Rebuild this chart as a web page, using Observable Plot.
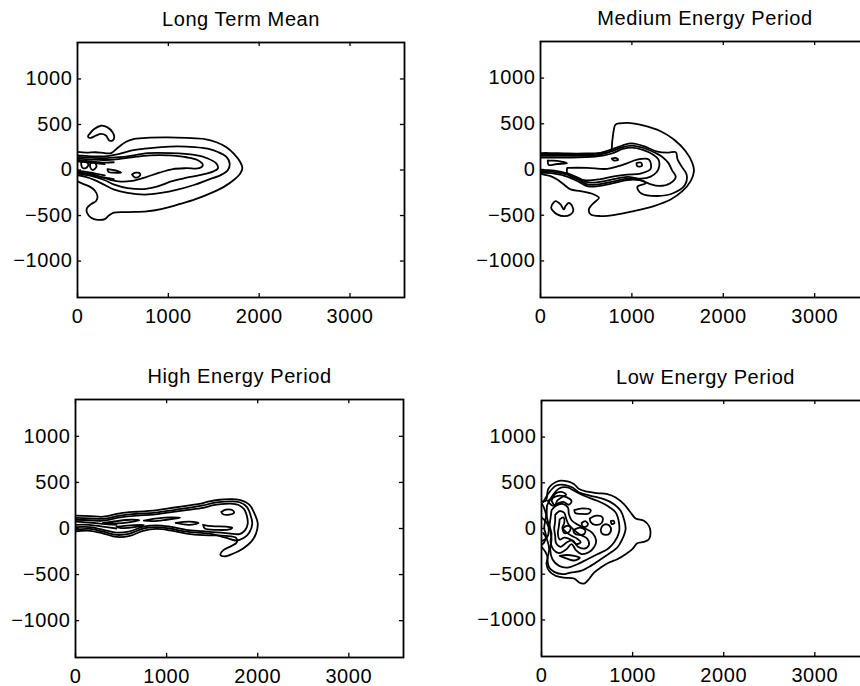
<!DOCTYPE html>
<html><head><meta charset="utf-8">
<script src="https://cdn.jsdelivr.net/npm/d3@7"></script>
<script src="https://cdn.jsdelivr.net/npm/@observablehq/plot@0.6"></script>
<style>
body{margin:0;background:#fff;}
#wrap{position:relative;width:860px;height:686px;overflow:hidden;background:#fff;}
#wrap svg{position:absolute;}
</style></head><body><div id="wrap"></div>
<script>
const xTicks = [0, 1000, 2000, 3000];
const yTicks = [-1000, -500, 0, 500, 1000];
const xDomain = [0, 3600];
const yDomain = [-1400, 1400];
const titles = ["Long Term Mean", "Medium Energy Period", "High Energy Period", "Low Energy Period"];

// Contour polylines [x, y] (data units)
const longTermMean = [
  [[0,198],[100,190],[200,195],[300,185],[370,185],[450,250],[535,310],[626,342],[800,355],[1000,358],[1200,352],[1400,340],[1530,305],[1640,250],[1720,180],[1790,90],[1815,20],[1790,-40],[1720,-110],[1620,-180],[1500,-240],[1300,-320],[1140,-370],[920,-430],[760,-455],[560,-462],[400,-468],[345,-500],[300,-540],[220,-547],[150,-525],[105,-470],[105,-415],[150,-375],[205,-340],[220,-290],[190,-225],[130,-180],[55,-150],[0,-125]],
  [[118,378],[184,450],[258,486],[331,468],[386,414],[405,360],[386,324],[350,324],[313,378],[258,396],[202,378],[147,353],[118,360],[118,378]],
  [[0,160],[150,150],[300,150],[450,175],[600,215],[740,235],[920,252],[1100,259],[1290,252],[1435,234],[1546,198],[1640,144],[1675,72],[1656,0],[1582,-54],[1435,-108],[1290,-162],[1100,-216],[920,-252],[740,-270],[550,-252],[405,-216],[295,-162],[184,-108],[90,-75],[0,-55]],
  [[0,145],[150,135],[300,130],[450,140],[552,150],[773,185],[1030,185],[1288,165],[1435,126],[1527,72],[1546,18],[1490,-18],[1362,-54],[1178,-90],[1030,-126],[883,-180],[736,-209],[552,-198],[405,-160],[295,-110],[150,-65],[0,-40]],
  [[0,125],[150,115],[300,110],[450,120],[600,140],[800,160],[1000,160],[1200,140],[1320,110],[1380,55],[1340,20],[1200,20],[1050,10],[900,-30],[750,-80],[600,-120],[450,-125],[300,-90],[150,-45],[0,-25]],
  [[330,10],[420,-5],[480,-30],[420,-30],[340,-20],[330,10]],
  [[600,-50],[640,-30],[690,-40],[680,-70],[630,-80],[600,-50]],
  [[40,80],[80,100],[120,60],[90,20],[50,30],[40,80]],
  [[140,70],[180,90],[210,40],[170,0],[140,30],[140,70]],
  [[0,110],[100,100],[200,90],[300,80],[400,85]],
  [[0,95],[100,85],[200,75],[300,65]],
  [[0,-10],[100,-20],[200,-40],[300,-60]],
  [[0,-25],[100,-40],[200,-65],[300,-85],[400,-100]]
];

const mediumEnergy = [
  [[0,180],[100,180],[300,175],[500,175],[650,178],[767,200],[785,309],[803,437],[821,491],[949,510],[1132,480],[1314,419],[1460,328],[1588,200],[1661,73],[1679,-18],[1643,-127],[1552,-237],[1424,-328],[1241,-400],[1022,-455],[840,-491],[657,-509],[548,-491],[529,-437],[584,-364],[640,-310],[584,-273],[438,-237],[329,-218],[256,-164],[183,-109],[110,-73],[37,-55],[0,-44]],
  [[0,165],[250,165],[600,170],[767,215],[900,265],[1000,285],[1130,255],[1280,195],[1400,185],[1480,190],[1500,110],[1540,40],[1600,-60],[1580,-170],[1450,-260],[1280,-290],[1100,-260],[1060,-190],[1150,-150],[1100,-120],[950,-115],[800,-150],[650,-180],[520,-185],[420,-135],[300,-80],[150,-45],[0,-35]],
  [[0,150],[250,150],[600,155],[767,195],[900,245],[1000,262],[1130,235],[1260,180],[1330,140],[1400,70],[1440,-10],[1480,-80],[1420,-150],[1300,-180],[1200,-160],[1100,-120],[950,-100],[800,-130],[650,-160],[520,-165],[420,-115],[300,-60],[150,-28],[0,-18]],
  [[0,130],[250,130],[600,140],[780,175],[900,225],[1000,240],[1120,215],[1230,165],[1290,110],[1300,40],[1270,-30],[1200,-80],[1100,-100],[950,-80],[800,-105],[650,-135],[520,-140],[420,-95],[300,-45],[150,-12],[0,-5]],
  [[292,18],[511,18],[730,7],[913,55],[1059,109],[1186,109],[1205,7],[1095,-44],[949,-55],[803,-75],[657,-105],[511,-120],[365,-90],[292,-36],[292,18]],
  [[80,100],[180,95],[290,70],[180,60],[90,50],[80,100]],
  [[780,120],[830,125],[850,105],[800,100],[780,120]],
  [[1050,70],[1100,75],[1110,40],[1060,35],[1050,70]],
  [[128,-382],[164,-346],[219,-382],[256,-437],[274,-400],[310,-364],[347,-400],[358,-455],[329,-491],[256,-510],[183,-491],[139,-455],[117,-419],[128,-382]]
];

const highEnergy = [
  [[0,140],[160,135],[306,128],[488,165],[671,182],[853,193],[1035,220],[1217,245],[1400,275],[1470,295],[1580,312],[1690,318],[1800,310],[1910,256],[1963,164],[2000,55],[1981,-55],[1927,-146],[1836,-219],[1727,-274],[1636,-303],[1590,-285],[1620,-237],[1700,-195],[1770,-150],[1760,-100],[1650,-80],[1500,-75],[1400,-73],[1217,-55],[1035,-20],[889,-5],[743,-25],[597,-80],[452,-92],[306,-55],[160,-25],[0,-30]],
  [[0,115],[160,110],[306,105],[488,140],[671,160],[853,170],[1035,195],[1217,220],[1400,250],[1500,275],[1600,290],[1700,295],[1800,285],[1880,235],[1920,150],[1940,50],[1910,-40],[1850,-100],[1760,-130],[1650,-100],[1500,-60],[1400,-50],[1217,-35],[1035,0],[889,15],[743,0],[597,-55],[452,-70],[306,-35],[160,-5],[0,-10]],
  [[0,95],[160,90],[306,85],[488,120],[671,140],[853,150],[1035,175],[1217,200],[1400,225],[1500,250],[1600,265],[1700,270],[1790,255],[1850,210],[1880,140],[1890,50],[1860,-20],[1800,-60],[1700,-55],[1600,-45],[1500,-40],[1400,-30],[1217,-15],[1035,20],[889,35],[743,20],[597,-30],[452,-45],[306,-15],[160,15],[0,15]],
  [[1600,180],[1650,205],[1720,200],[1740,170],[1690,150],[1620,155],[1600,180]],
  [[1400,40],[1500,25],[1650,20],[1720,10],[1690,-10],[1550,-15],[1420,0],[1400,40]],
  [[300,60],[450,80],[600,95],[700,90],[600,70],[450,55],[300,60]],
  [[750,85],[900,110],[1050,120],[1150,115],[1000,95],[850,80],[750,85]],
  [[450,20],[600,35],[750,40],[650,15],[500,5],[450,20]],
  [[1100,60],[1250,75],[1350,60],[1250,40],[1100,60]],
  [[0,75],[150,65],[300,50],[450,40]],
  [[0,40],[150,40],[300,20],[450,0]]
];

const lowEnergy = [
  [[0,300],[47,303],[73,431],[120,485],[193,522],[285,515],[358,485],[413,431],[504,402],[613,387],[723,376],[814,339],[905,266],[978,175],[1033,110],[1124,84],[1179,29],[1197,-44],[1179,-117],[1124,-146],[1051,-161],[997,-226],[923,-281],[832,-336],[741,-372],[650,-427],[577,-482],[504,-573],[467,-602],[413,-591],[358,-547],[248,-537],[157,-518],[84,-464],[55,-391],[66,-318],[47,-263],[0,-200]],
  [[20,290],[84,394],[157,467],[248,478],[340,449],[413,394],[540,358],[686,321],[796,266],[869,193],[905,102],[923,-7],[887,-117],[832,-208],[759,-263],[650,-336],[540,-409],[431,-464],[321,-482],[230,-500],[139,-474],[84,-427],[66,-336],[84,-226],[60,-120],[20,-50]],
  [[60,250],[120,358],[193,438],[285,449],[358,413],[467,358],[613,303],[723,248],[814,175],[850,66],[850,-44],[796,-153],[723,-226],[613,-281],[504,-336],[394,-391],[285,-427],[193,-409],[120,-336],[95,-226],[110,-117],[84,29],[60,120],[60,250]],
  [[110,300],[150,380],[220,400],[270,370],[220,340],[170,300],[150,250],[110,300]],
  [[110,200],[160,250],[230,270],[290,230],[300,160],[330,90],[400,40],[480,0],[560,-50],[600,-130],[580,-200],[520,-260],[440,-280],[380,-240],[330,-170],[270,-230],[190,-270],[130,-230],[100,-150],[110,-60],[90,30],[100,120],[110,200]],
  [[150,150],[200,190],[250,170],[270,110],[300,40],[360,-20],[430,-70],[500,-110],[520,-180],[470,-220],[400,-200],[340,-130],[280,-150],[210,-200],[160,-160],[150,-80],[140,0],[150,80],[150,150]],
  [[200,100],[240,120],[250,60],[230,10],[270,-40],[330,-80],[390,-110],[430,-150],[380,-170],[320,-120],[250,-100],[200,-120],[180,-60],[190,20],[200,100]],
  [[350,-20],[420,10],[480,-20],[470,-60],[410,-70],[360,-50],[350,-20]],
  [[440,60],[480,80],[510,50],[490,20],[450,25],[440,60]],
  [[650,-15],[670,30],[720,45],[760,10],[750,-50],[700,-70],[660,-50],[650,-15]],
  [[760,80],[790,85],[800,60],[770,50],[760,80]],
  [[530,110],[600,140],[670,120],[660,60],[590,40],[540,70],[530,110]],
  [[360,200],[450,220],[540,200],[520,165],[430,160],[370,170],[360,200]],
  [[0,280],[30,220],[50,150],[40,80],[30,0],[50,-80],[30,-150],[0,-180]],
  [[0,120],[60,60],[80,-20],[60,-100],[0,-140]],
  [[70,300],[130,340],[200,360],[280,340],[330,300],[300,260],[240,290],[170,270],[120,250],[70,300]],
  [[200,-300],[280,-330],[360,-350],[420,-320],[360,-300],[280,-290],[200,-300]],
  [[230,0],[280,30],[320,10],[300,-40],[250,-50],[230,0]]
];

const panels = [
  {title: titles[0], contours: longTermMean, left: 0, top: 0, width: 430, height: 343, mt: 42, mr: 26, mb: 46, ml: 77},
  {title: titles[1], contours: mediumEnergy, left: 430, top: 0, width: 440, height: 343, mt: 41, mr: 1, mb: 46, ml: 110},
  {title: titles[2], contours: highEnergy, left: 0, top: 343, width: 430, height: 343, mt: 56, mr: 27, mb: 29, ml: 75},
  {title: titles[3], contours: lowEnergy, left: 430, top: 343, width: 440, height: 343, mt: 57, mr: 1, mb: 30, ml: 111}
];

const wrap = document.getElementById("wrap");
const tl = 45; // tick length in data units (~4px)
const fmt = d => (d < 0 ? "\u2212" + Math.abs(d) : String(d));
const font = "'Liberation Sans', Arial, Helvetica, sans-serif";

for (const p of panels) {
  const rows = p.contours.flatMap((c, i) => c.map(([x, y]) => ({x, y, id: i})));
  const chart = Plot.plot({
    width: p.width, height: p.height,
    marginTop: p.mt, marginRight: p.mr, marginBottom: p.mb, marginLeft: p.ml,
    x: {domain: xDomain, label: null},
    y: {domain: yDomain, label: null},
    style: {fontFamily: font, fontSize: "20px", letterSpacing: "0.6px", background: "white", color: "black", overflow: "visible"},
    marks: [
      Plot.line(rows, {x: "x", y: "y", z: "id", curve: "catmull-rom", stroke: "black", strokeWidth: 1.8, clip: true}),
      Plot.ruleX(xTicks, {x: d => d, y1: yDomain[0], y2: yDomain[0] + tl, stroke: "black", strokeWidth: 1.3}),
      Plot.ruleX(xTicks, {x: d => d, y1: yDomain[1] - tl, y2: yDomain[1], stroke: "black", strokeWidth: 1.3}),
      Plot.ruleY(yTicks, {y: d => d, x1: xDomain[0], x2: xDomain[0] + tl, stroke: "black", strokeWidth: 1.3}),
      Plot.ruleY(yTicks, {y: d => d, x1: xDomain[1] - tl, x2: xDomain[1], stroke: "black", strokeWidth: 1.3}),
      Plot.frame({stroke: "black", strokeWidth: 1.8}),
      Plot.axisX(xTicks, {tickSize: 0, tickPadding: 11, label: null, tickFormat: fmt, fontSize: 20}),
      Plot.axisY(yTicks, {tickSize: 0, tickPadding: 5, label: null, tickFormat: fmt, fontSize: 20}),
      Plot.text([p.title], {text: d => d, frameAnchor: "top", dy: -17, lineAnchor: "bottom", fontSize: 20})
    ]
  });
  chart.style.left = p.left + "px";
  chart.style.top = p.top + "px";
  wrap.appendChild(chart);
}
</script>
</body></html>
